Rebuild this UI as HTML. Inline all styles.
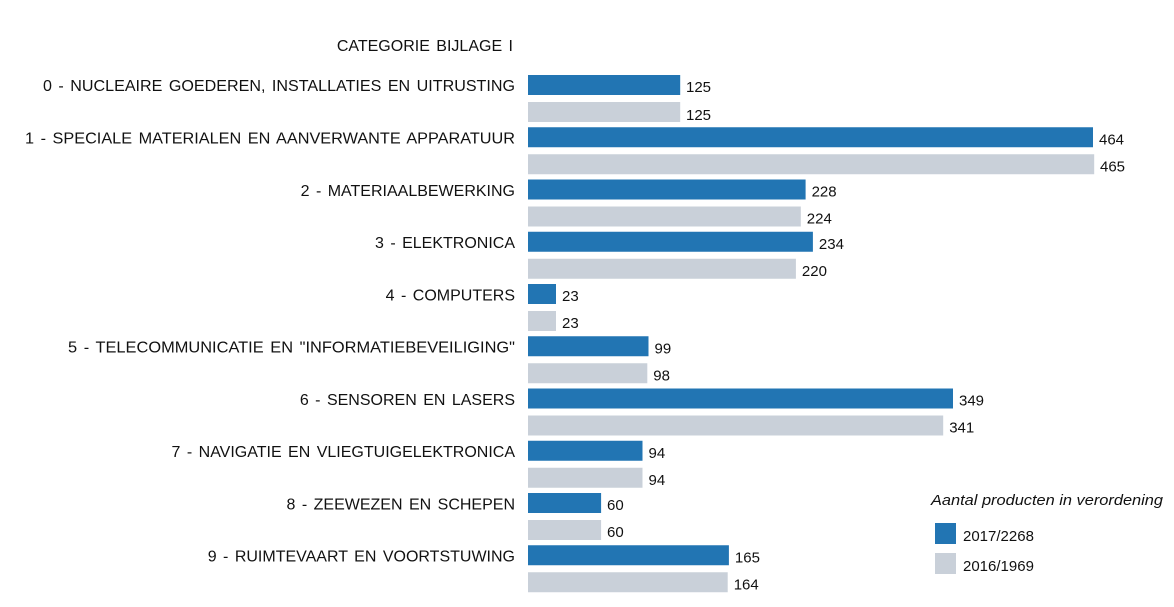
<!DOCTYPE html>
<html><head><meta charset="utf-8"><style>
body{margin:0;background:#fff;}
svg text{font-family:"Liberation Sans",Arial,sans-serif;font-size:15px;fill:#111;}
svg text.l{font-size:16px;word-spacing:2px;}
</style></head><body>
<svg width="1174" height="602" xmlns="http://www.w3.org/2000/svg">
<text class="l" x="513" y="51" text-anchor="end">CATEGORIE BIJLAGE I</text>

<text class="l" x="515" y="91" text-anchor="end" textLength="472" lengthAdjust="spacingAndGlyphs">0 - NUCLEAIRE GOEDEREN, INSTALLATIES EN UITRUSTING</text>
<rect x="528" y="75" width="152.2" height="20" fill="#2275b3"/>
<rect x="528" y="102" width="152.2" height="20" fill="#c9d0d9"/>
<text x="686" y="92">125</text><text x="686" y="120">125</text>

<text class="l" x="515" y="143.25" text-anchor="end" textLength="490" lengthAdjust="spacingAndGlyphs">1 - SPECIALE MATERIALEN EN AANVERWANTE APPARATUUR</text>
<rect x="528" y="127.25" width="565" height="20" fill="#2275b3"/>
<rect x="528" y="154.25" width="566.2" height="20" fill="#c9d0d9"/>
<text x="1099" y="144.25">464</text><text x="1100" y="171.25">465</text>

<text class="l" x="515" y="196" text-anchor="end">2 - MATERIAALBEWERKING</text>
<rect x="528" y="179.5" width="277.6" height="20" fill="#2275b3"/>
<rect x="528" y="206.5" width="272.8" height="20" fill="#c9d0d9"/>
<text x="811.6" y="196.5">228</text><text x="806.8" y="223.5">224</text>

<text class="l" x="515" y="248" text-anchor="end">3 - ELEKTRONICA</text>
<rect x="528" y="231.75" width="284.9" height="20" fill="#2275b3"/>
<rect x="528" y="258.75" width="267.9" height="20" fill="#c9d0d9"/>
<text x="818.9" y="248.75">234</text><text x="801.9" y="275.75">220</text>

<text class="l" x="515" y="300.5" text-anchor="end">4 - COMPUTERS</text>
<rect x="528" y="284" width="28" height="20" fill="#2275b3"/>
<rect x="528" y="311" width="28" height="20" fill="#c9d0d9"/>
<text x="562" y="301">23</text><text x="562" y="328">23</text>

<text class="l" x="515" y="352.5" text-anchor="end" textLength="447" lengthAdjust="spacingAndGlyphs">5 - TELECOMMUNICATIE  EN "INFORMATIEBEVEILIGING"</text>
<rect x="528" y="336.25" width="120.5" height="20" fill="#2275b3"/>
<rect x="528" y="363.25" width="119.3" height="20" fill="#c9d0d9"/>
<text x="654.5" y="353.25">99</text><text x="653.3" y="380.25">98</text>

<text class="l" x="515" y="405" text-anchor="end">6 - SENSOREN  EN LASERS</text>
<rect x="528" y="388.5" width="425" height="20" fill="#2275b3"/>
<rect x="528" y="415.5" width="415.2" height="20" fill="#c9d0d9"/>
<text x="959" y="405.5">349</text><text x="949.2" y="432.5">341</text>

<text class="l" x="515" y="457" text-anchor="end">7 - NAVIGATIE EN VLIEGTUIGELEKTRONICA</text>
<rect x="528" y="440.75" width="114.5" height="20" fill="#2275b3"/>
<rect x="528" y="467.75" width="114.5" height="20" fill="#c9d0d9"/>
<text x="648.5" y="457.75">94</text><text x="648.5" y="484.75">94</text>

<text class="l" x="515" y="509.5" text-anchor="end">8 - ZEEWEZEN EN SCHEPEN</text>
<rect x="528" y="493" width="73.1" height="20" fill="#2275b3"/>
<rect x="528" y="520" width="73.1" height="20" fill="#c9d0d9"/>
<text x="607" y="510">60</text><text x="607" y="537">60</text>

<text class="l" x="515" y="561.5" text-anchor="end">9 - RUIMTEVAART  EN VOORTSTUWING</text>
<rect x="528" y="545.25" width="200.9" height="20" fill="#2275b3"/>
<rect x="528" y="572.25" width="199.7" height="20" fill="#c9d0d9"/>
<text x="734.9" y="562.25">165</text><text x="733.7" y="589.25">164</text>

<text x="931" y="505" style="font-style:italic" textLength="232" lengthAdjust="spacingAndGlyphs">Aantal producten in verordening</text>
<rect x="935" y="523" width="21" height="21" fill="#2275b3"/>
<text x="963" y="541">2017/2268</text>
<rect x="935" y="553" width="21" height="21" fill="#c9d0d9"/>
<text x="963" y="571">2016/1969</text>
</svg>
</body></html>
